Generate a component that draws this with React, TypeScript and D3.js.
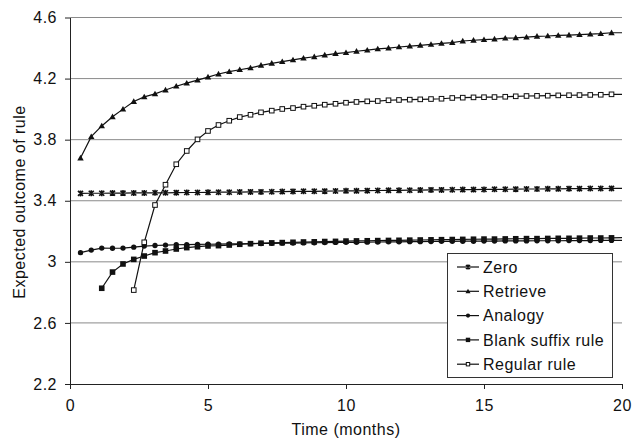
import React, { useEffect, useRef } from "react";
import * as d3 from "d3";

// time in months (last point at 20 has no marker)
const months = [
  0.38, 0.77, 1.15, 1.54, 1.92, 2.31, 2.69, 3.08, 3.46, 3.85,
  4.23, 4.62, 5.0, 5.38, 5.77, 6.15, 6.54, 6.92, 7.31, 7.69,
  8.08, 8.46, 8.85, 9.23, 9.62, 10.0, 10.38, 10.77, 11.15, 11.54,
  11.92, 12.31, 12.69, 13.08, 13.46, 13.85, 14.23, 14.62, 15.0, 15.38,
  15.77, 16.15, 16.54, 16.92, 17.31, 17.69, 18.08, 18.46, 18.85, 19.23,
  19.62, 20.0,
];

const zero = [
  3.448, 3.449, 3.449, 3.45, 3.45, 3.451, 3.451, 3.452, 3.452, 3.453,
  3.454, 3.454, 3.455, 3.456, 3.456, 3.457, 3.458, 3.458, 3.459, 3.46,
  3.461, 3.462, 3.462, 3.463, 3.464, 3.465, 3.465, 3.466, 3.467, 3.468,
  3.468, 3.469, 3.47, 3.471, 3.471, 3.472, 3.473, 3.473, 3.474, 3.475,
  3.475, 3.476, 3.477, 3.477, 3.478, 3.478, 3.479, 3.479, 3.48, 3.48,
  3.481, 3.481,
];

const retrieve = [
  3.68, 3.82, 3.89, 3.95, 4.0, 4.05, 4.08, 4.1, 4.125, 4.15,
  4.17, 4.19, 4.21, 4.23, 4.245, 4.258, 4.27, 4.287, 4.3, 4.311,
  4.322, 4.334, 4.343, 4.354, 4.364, 4.37, 4.379, 4.386, 4.394, 4.4,
  4.407, 4.413, 4.418, 4.424, 4.43, 4.436, 4.446, 4.451, 4.455, 4.459,
  4.465, 4.467, 4.471, 4.477, 4.479, 4.483, 4.485, 4.488, 4.491, 4.494,
  4.5, 4.5,
];

const analogy = [
  3.06, 3.077, 3.09, 3.089, 3.09, 3.096, 3.103, 3.107, 3.11, 3.112,
  3.113, 3.114, 3.115, 3.116, 3.117, 3.118, 3.119, 3.12, 3.121, 3.122,
  3.123, 3.124, 3.125, 3.126, 3.127, 3.128, 3.128, 3.129, 3.13, 3.131,
  3.131, 3.132, 3.132, 3.133, 3.134, 3.134, 3.135, 3.135, 3.136, 3.136,
  3.137, 3.137, 3.137, 3.138, 3.138, 3.138, 3.139, 3.139, 3.139, 3.14,
  3.14, 3.14,
];

const blankSuffix = [
  null, null, 2.827, 2.933, 2.986, 3.016, 3.038, 3.06, 3.071, 3.084,
  3.093, 3.099, 3.104, 3.106, 3.11, 3.115, 3.119, 3.122, 3.124, 3.126,
  3.128, 3.13, 3.131, 3.133, 3.134, 3.136, 3.137, 3.138, 3.139, 3.14,
  3.141, 3.142, 3.143, 3.144, 3.145, 3.146, 3.147, 3.148, 3.149, 3.149,
  3.15, 3.151, 3.152, 3.152, 3.153, 3.154, 3.154, 3.155, 3.156, 3.156,
  3.157, 3.158,
];

const regular = [
  null, null, null, null, null, 2.815, 3.128, 3.372, 3.505, 3.639,
  3.726, 3.802, 3.857, 3.896, 3.924, 3.948, 3.963, 3.979, 3.99, 4.001,
  4.007, 4.016, 4.022, 4.029, 4.035, 4.042, 4.047, 4.051, 4.053, 4.058,
  4.06, 4.062, 4.064, 4.066, 4.068, 4.073, 4.075, 4.077, 4.078, 4.079,
  4.081, 4.084, 4.086, 4.087, 4.088, 4.09, 4.091, 4.092, 4.093, 4.094,
  4.097, 4.097,
];

const seriesNames = ["Zero", "Retrieve", "Analogy", "Blank suffix rule", "Regular rule"];
const seriesValues = [zero, retrieve, analogy, blankSuffix, regular];
const markerTypes = ["asterisk", "triangle", "circle", "square", "openSquare"];

const yTicks = [2.2, 2.6, 3, 3.4, 3.8, 4.2, 4.6];
const yTickLabels = ["2.2", "2.6", "3", "3.4", "3.8", "4.2", "4.6"];
const xTicks = [0, 5, 10, 15, 20];

const FONT = "'Liberation Sans', Arial, sans-serif";

function styleText(sel) {
  return sel
    .style("font-family", FONT)
    .style("font-size", "16px")
    .style("letter-spacing", "0.5px")
    .attr("fill", "#111");
}

function drawMarker(g, type, x, y, s) {
  if (type === "asterisk") {
    g.append("path")
      .attr("d", `M${x - s},${y - s}L${x + s},${y + s}M${x - s},${y + s}L${x + s},${y - s}M${x},${y - s - 0.5}L${x},${y + s + 0.5}`)
      .attr("stroke", "#111")
      .attr("stroke-width", 1.6)
      .attr("fill", "none");
  } else if (type === "triangle") {
    const h = s * 1.9;
    g.append("path")
      .attr("d", `M${x},${y - h * 0.6}L${x + s * 1.15},${y + h * 0.45}L${x - s * 1.15},${y + h * 0.45}Z`)
      .attr("fill", "#111");
  } else if (type === "circle") {
    g.append("circle").attr("cx", x).attr("cy", y).attr("r", s * 0.95).attr("fill", "#111");
  } else if (type === "square") {
    g.append("rect")
      .attr("x", x - s).attr("y", y - s)
      .attr("width", s * 2).attr("height", s * 2)
      .attr("fill", "#111");
  } else {
    g.append("rect")
      .attr("x", x - s + 0.5).attr("y", y - s + 0.5)
      .attr("width", s * 2 - 1).attr("height", s * 2 - 1)
      .attr("fill", "#fff")
      .attr("stroke", "#111")
      .attr("stroke-width", 1);
  }
}

const App = () => {
  const svgRef = useRef(null);

  useEffect(() => {
    const svg = d3.select(svgRef.current);
    svg.selectAll("*").remove();

    const x = d3.scaleLinear().domain([0, 20]).range([70, 622]);
    const y = d3.scaleLinear().domain([2.2, 4.6]).range([384, 17.5]);

    svg.append("rect").attr("width", 632).attr("height", 440).attr("fill", "#fff");

    // gridlines
    svg.append("g")
      .selectAll("line")
      .data(yTicks.slice(1))
      .enter()
      .append("line")
      .attr("x1", x(0))
      .attr("x2", x(20))
      .attr("y1", d => y(d))
      .attr("y2", d => y(d))
      .attr("stroke", "#8a8a8a")
      .attr("stroke-width", 1);

    // axes
    const yAxis = svg.append("g")
      .attr("transform", `translate(${x(0)},0)`)
      .call(
        d3.axisLeft(y)
          .tickValues(yTicks)
          .tickFormat((d, i) => yTickLabels[i])
          .tickSize(5)
          .tickSizeOuter(0)
          .tickPadding(8)
      );

    const xAxis = svg.append("g")
      .attr("transform", `translate(0,${y(2.2)})`)
      .call(
        d3.axisBottom(x)
          .tickValues(xTicks)
          .tickFormat(d3.format("d"))
          .tickSize(5)
          .tickSizeOuter(0)
          .tickPadding(11)
      );

    [yAxis, xAxis].forEach(a => {
      a.selectAll("path, line").attr("stroke", "#222");
      styleText(a.selectAll("text"));
    });

    // axis titles
    styleText(
      svg.append("text")
        .attr("x", 346)
        .attr("y", 435)
        .attr("text-anchor", "middle")
    ).text("Time (months)");

    styleText(
      svg.append("text")
        .attr("transform", "translate(25,202) rotate(-90)")
        .attr("text-anchor", "middle")
    ).text("Expected outcome of rule");

    // series
    const line = d3.line()
      .defined(d => d[1] != null)
      .x(d => x(d[0]))
      .y(d => y(d[1]));

    const markedPoints = months.length - 1;

    seriesValues.forEach((values, si) => {
      const pts = months.map((t, i) => [t, values[i]]);
      const g = svg.append("g");
      g.append("path")
        .datum(pts)
        .attr("fill", "none")
        .attr("stroke", "#111")
        .attr("stroke-width", 1.2)
        .attr("d", line);
      pts.slice(0, markedPoints).forEach(p => {
        if (p[1] == null) return;
        const s = markerTypes[si] === "asterisk" ? 2.5 : 2.8;
        drawMarker(g, markerTypes[si], x(p[0]), y(p[1]), s);
      });
    });

    // legend
    const legend = svg.append("g");
    legend.append("rect")
      .attr("x", 447.5)
      .attr("y", 253.5)
      .attr("width", 165)
      .attr("height", 124)
      .attr("fill", "#fff")
      .attr("stroke", "#333")
      .attr("stroke-width", 1);

    seriesNames.forEach((name, i) => {
      const cy = 267 + i * 24.3;
      legend.append("line")
        .attr("x1", 457)
        .attr("x2", 479)
        .attr("y1", cy)
        .attr("y2", cy)
        .attr("stroke", "#111")
        .attr("stroke-width", 1.2);
      drawMarker(legend, markerTypes[i], 468, cy, markerTypes[i] === "asterisk" ? 2 : 2.2);
      styleText(
        legend.append("text")
          .attr("x", 483)
          .attr("y", cy + 5.8)
      ).text(name);
    });
  }, []);

  return (
    <svg
      ref={svgRef}
      width={632}
      height={440}
      style={{ position: "absolute", left: 0, top: 0, display: "block" }}
    ></svg>
  );
};

export default App;
